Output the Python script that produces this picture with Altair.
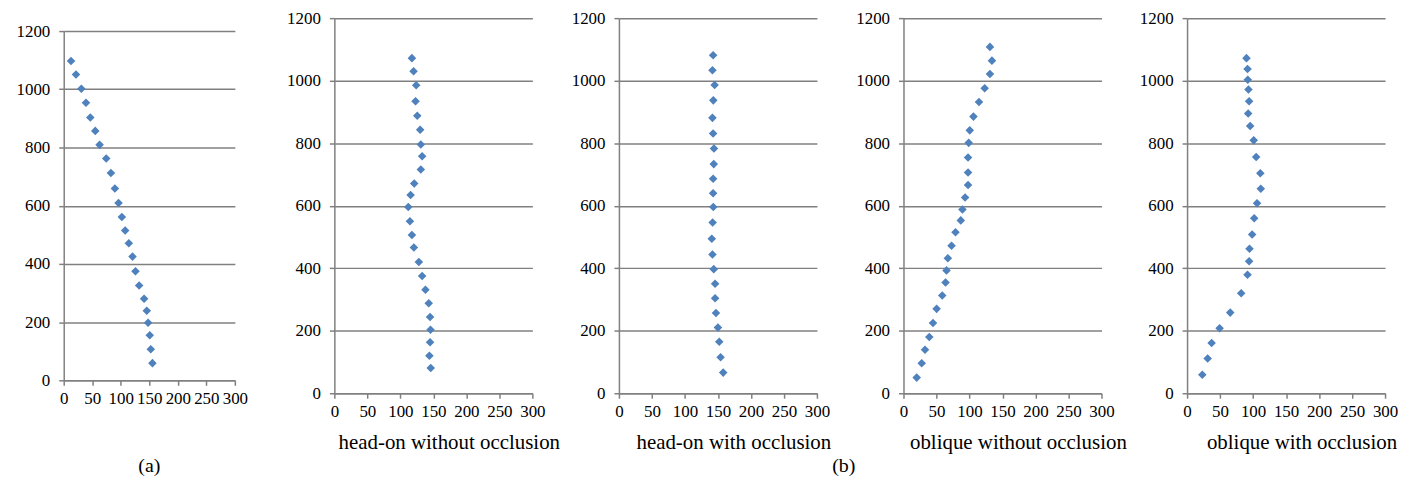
import altair as alt
import pandas as pd

# ---- data ----
a_x = [12.8, 21.5, 30.9, 39, 46.6, 55.3, 62.9, 74.5, 82.7, 89.7, 96.1, 101.9, 107.7, 114.1, 120.6, 125.8, 132.2, 140.9, 145.6, 147.9, 150.8, 152.6, 155.5]
a_y = [1097, 1051, 1002, 954, 903, 857, 809, 762, 712, 659, 609, 561, 515, 471, 425, 375, 326, 280, 239, 198, 155, 107, 59]

b1_x = [117.5, 120, 124, 123, 125.6, 130, 131, 133, 131, 121, 115.5, 112, 114.5, 117.5, 120.5, 128, 133, 138, 143, 145, 145.7, 145, 144, 146]
b1_y = [1072, 1030, 985, 934, 888, 843, 796, 758, 716, 671, 634, 596, 550, 506, 466, 420, 375, 331, 288, 244, 203, 163, 120, 81]

b2_x = [142.7, 141.7, 145, 143, 141.7, 142.7, 144, 143.7, 142.7, 142.7, 143, 142, 140.7, 141.7, 143.7, 145.7, 145.7, 147, 150, 152, 154, 158]
b2_y = [1081, 1033, 986, 937, 881, 831, 783, 733, 686, 640, 596, 546, 494, 444, 397, 350, 304, 257, 210, 165, 115, 66]

b3_x = [131, 134, 131, 123, 114.4, 106, 100.4, 98.8, 97.8, 97.8, 97.8, 93.3, 89.3, 86.8, 78.8, 72.8, 67.2, 65.2, 63.7, 58.7, 50.2, 44.7, 39.1, 32.6, 27.6, 20]
b3_y = [1108, 1064, 1021, 976, 932, 885, 841, 801, 754, 706, 666, 626, 588, 553, 515, 472, 432, 393, 354, 313, 270, 225, 180, 139, 96, 50]

b4_x = [90, 91.6, 92, 93, 94, 92.6, 95.6, 101, 104.7, 111, 111.7, 106, 101.7, 98.6, 94.6, 94, 91.6, 82, 65.4, 49.3, 37.2, 31.2, 23.1]
b4_y = [1072, 1037, 1003, 972, 934, 895, 855, 809, 756, 704, 654, 608, 560, 508, 462, 422, 379, 320, 258, 208, 161, 111, 59]

titles = ["head-on without occlusion", "head-on with occlusion", "oblique without occlusion", "oblique with occlusion"]
captions = ["(a)", "(b)"]
x_ticks = [0, 50, 100, 150, 200, 250, 300]
y_ticks = [0, 200, 400, 600, 800, 1000, 1200]

BLUE = "#4F81BD"
GREY = "#808080"
FONT = "Liberation Serif"


def panel(xs, ys, plot_w, total_w, h, title=None, captions_list=None):
    df = pd.DataFrame({"x": xs, "y": ys})
    pts = alt.Chart(df).mark_point(
        shape="diamond", filled=True, size=74, color=BLUE, opacity=1
    ).encode(
        x=alt.X("x:Q",
                scale=alt.Scale(domain=[0, 300], range=[0, plot_w], nice=False, zero=True),
                axis=alt.Axis(values=x_ticks, title=None, grid=False, labelOverlap=False,
                              labelFlush=False, format="d", domainColor=GREY, tickColor=GREY,
                              tickSize=5, labelFont=FONT, labelFontSize=17, labelColor="black",
                              labelPadding=5, domainWidth=1.5, tickWidth=1.5)),
        y=alt.Y("y:Q",
                scale=alt.Scale(domain=[0, 1200], nice=False),
                axis=alt.Axis(values=y_ticks, title=None, grid=True, gridColor=GREY,
                              gridWidth=1.5, format="d", domainColor=GREY, tickColor=GREY,
                              tickSize=5, labelFont=FONT, labelFontSize=17, labelColor="black",
                              labelPadding=9, domainWidth=1.5, tickWidth=1.5)),
    )
    layers = [pts]
    if captions_list is not None:
        cdf = pd.DataFrame(captions_list)
        txt = alt.Chart(cdf).mark_text(font=FONT, fontSize=20, color="black",
                                       align="center", baseline="middle").encode(
            text="t:N",
            x=alt.X("px:Q", scale=None),
            y=alt.Y("py:Q", scale=None))
        layers.append(txt)
    ch = alt.layer(*layers).properties(width=total_w, height=h)
    if title is not None:
        ch = ch.properties(title=alt.TitleParams(
            text=title, orient="bottom", frame="group", anchor="middle",
            offset=13, dx=plot_w / 2 - total_w / 2 + 16, fontSize=21, font=FONT,
            fontWeight="normal", color="black"))
    return ch


# caption placement (pixels relative to panel (a) plot origin) kept separate from data
cap_table = [
    {"t": captions[0], "px": 86, "py": 437},
    {"t": captions[1], "px": 784, "py": 437},
]

pa = panel(a_x, a_y, 172, 272, 351, captions_list=cap_table)
p1 = panel(b1_x, b1_y, 199, 286, 377, title=titles[0])
p2 = panel(b2_x, b2_y, 199, 286, 377, title=titles[1])
p3 = panel(b3_x, b3_y, 199, 285, 377, title=titles[2])
p4 = panel(b4_x, b4_y, 199, 199, 377, title=titles[3])

chart = alt.hconcat(pa, p1, p2, p3, p4, spacing=0, bounds="flush", center=True).configure_view(
    strokeWidth=0
).configure_axis(labelFont=FONT).properties(
    background="white", padding={"left": 8, "top": 0, "right": 0, "bottom": 2})

chart.save("out.html", embed_options={"renderer": "svg", "actions": False})
